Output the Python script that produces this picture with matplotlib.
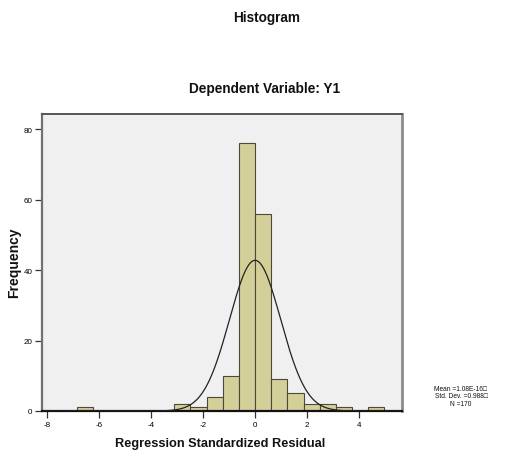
import numpy as np
import matplotlib
matplotlib.use("Agg")
import matplotlib.pyplot as plt

plt.rcParams['font.family'] = ['Liberation Sans', 'DejaVu Sans']
plt.rcParams['axes.unicode_minus'] = False

# Data
bin_width = 0.623
bin_lefts = [-6.853, -3.115, -2.492, -1.869, -1.246, -0.623, 0.0, 0.623, 1.246, 1.869, 2.492, 3.115, 4.361]
counts = [1, 2, 1, 4, 10, 76, 56, 9, 5, 2, 2, 1, 1]
mean_val = 1.08e-16
std_val = 0.988
n_val = 170
x_ticks = [-8, -6, -4, -2, 0, 2, 4]
y_ticks = [0, 20, 40, 60, 80]

W, H = 516, 452
fig = plt.figure(figsize=(W / 100, H / 100), dpi=100)
ax = fig.add_axes([42 / W, 1 - 412 / H, (402 - 42) / W, (412 - 115) / H])
ax.set_facecolor('#F0F0F0')

ax.bar(bin_lefts, counts, width=bin_width, align='edge', color='#D4CF99',
       edgecolor='#4A4A3A', linewidth=0.8, zorder=2)

xs = np.linspace(-8.21, 5.66, 600)
ys = n_val * bin_width * np.exp(-0.5 * ((xs - mean_val) / std_val) ** 2) / (std_val * np.sqrt(2 * np.pi))
ax.plot(xs, ys, color='#222222', linewidth=0.9, zorder=3)

ax.set_xlim(-8.21, 5.66)
ax.set_ylim(0, 84.3)
ax.set_xticks(x_ticks)
ax.set_yticks(y_ticks)
ax.tick_params(axis='both', labelsize=5.8, length=5, width=0.9, color='#333333', pad=2)

for side, col, lw in [('left', '#707070', 1.6), ('top', '#555555', 1.4),
                      ('right', '#8C8C8C', 2.0), ('bottom', '#111111', 1.6)]:
    ax.spines[side].set_color(col)
    ax.spines[side].set_linewidth(lw)

fig.text(266.5 / W, 1 - 18 / H, 'Histogram', ha='center', va='center',
         fontsize=9.8, fontweight='bold', color='#111111')
fig.text(264.7 / W, 1 - 89 / H, 'Dependent Variable: Y1', ha='center', va='center',
         fontsize=9.8, fontweight='bold', color='#111111')
fig.text(219.7 / W, 1 - 444 / H, 'Regression Standardized Residual', ha='center', va='center',
         fontsize=9.2, fontweight='bold', color='#111111')
fig.text(14 / W, 1 - 263 / H, 'Frequency', ha='center', va='center', rotation=90,
         fontsize=10, fontweight='bold', color='#111111')

stats = f"Mean =1.08E-16\u25a1\nStd. Dev. ={std_val:.3f}\u25a1\nN ={n_val}"
fig.text(461 / W, 1 - 397 / H, stats, ha='center', va='center', multialignment='center',
         fontsize=4.8, color='#111111', linespacing=1.15)

fig.savefig('out.png', dpi=100)
